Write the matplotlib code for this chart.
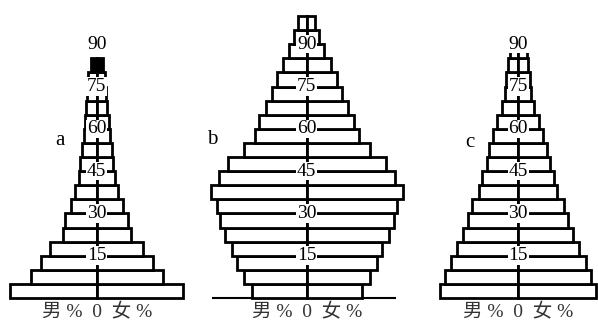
import numpy as np
import matplotlib.pyplot as plt

# lower bound of each 5-year age group
ages_a = np.arange(0, 85, 5)
ages_b = np.arange(0, 100, 5)
ages_c = np.arange(0, 90, 5)

# share of each group, % (male and female sides look the same)
pct_a = [4.33, 3.3, 2.8, 2.33, 1.7, 1.58, 1.3, 1.08, 0.9, 0.83, 0.75, 0.65,
         0.6, 0.52, 0.48, 0.42, 0.3]
pct_b = [2.75, 3.15, 3.5, 3.75, 4.1, 4.35, 4.5, 4.8, 4.4, 3.95, 3.15, 2.6,
         2.38, 2.05, 1.75, 1.5, 1.2, 0.88, 0.62, 0.42]
pct_c = [3.9, 3.65, 3.38, 3.05, 2.75, 2.5, 2.3, 1.95, 1.8, 1.58, 1.45, 1.25,
         1.05, 0.8, 0.65, 0.6, 0.5, 0.42]

age_ticks = [15, 30, 45, 60, 75, 90]
axis_text = '男 %  0  女 %'

W, H = 598, 325
px_per_pct = 20.0
px_per_year = 2.82
base_px = 298  # pixel row of age 0, from top

fig = plt.figure(figsize=(W / 100, H / 100), dpi=100)

serif = ['Liberation Serif', 'Noto Sans CJK SC']


def draw_panel(center_px, half_px, ages, pct, letter, letter_px, black_top=False, base_line=None):
    left = (center_px - half_px) / W
    ax = fig.add_axes([left, 0, 2 * half_px / W, 1])
    ax.set_xlim(-half_px / px_per_pct, half_px / px_per_pct)
    ax.set_ylim(-(H - base_px) / px_per_year, base_px / px_per_year)
    ax.axis('off')

    pct = np.array(pct)
    faces = ['white'] * len(pct)
    if black_top:
        faces[-1] = 'black'
    for side in (-1, 1):
        ax.barh(ages, side * pct, height=5, align='edge', color=faces,
                edgecolor='black', linewidth=2.0, zorder=2)

    for t in age_ticks:
        ax.text(0, t, str(t), ha='center', va='center', fontsize=14,
                family='Liberation Serif', zorder=5,
                bbox=dict(facecolor='white', edgecolor='none', pad=0.5))

    if base_line is not None:
        ax.axhline(0, base_line[0], base_line[1], color='black', lw=1.5, zorder=1)

    ax.text(0, -5.2, axis_text, ha='center', va='center', fontsize=14,
            family=serif, color='#333333')
    fig.text(letter_px[0] / W, 1 - letter_px[1] / H, letter, fontsize=15,
             family='Liberation Serif', ha='center', va='center')


draw_panel(96.7, 97, ages_a, pct_a, 'a', (60, 141), black_top=True)
draw_panel(306.7, 105, ages_b, pct_b, 'b', (212, 140), base_line=(0.054, 0.92))
draw_panel(518.3, 79.5, ages_c, pct_c, 'c', (470, 142))

fig.savefig('out.png', dpi=100, facecolor='white')
